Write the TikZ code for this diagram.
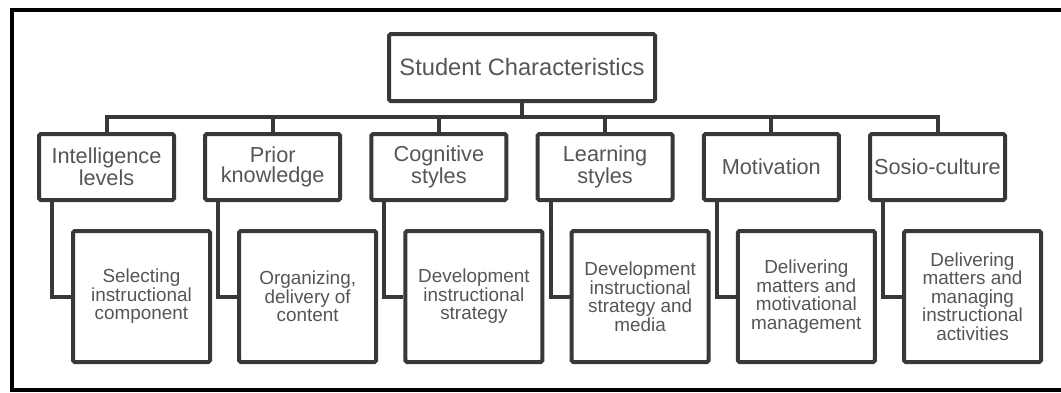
\documentclass[tikz,border=0pt]{standalone}
\usepackage{fontspec}
\setmainfont{Liberation Sans}
\begin{document}
\begin{tikzpicture}[x=0.5pt,y=-0.5pt,
  boxline/.style={draw=boxgray, line width=2pt, rounded corners=0.8pt},
  topbox/.style={boxline, minimum width=133pt, minimum height=33.5pt, inner sep=0pt,
     font=\fontsize{11.85}{13}\selectfont, text=txtgray},
  catbox/.style={boxline, minimum width=67.5pt, minimum height=33pt, inner sep=0pt,
     align=center, font=\fontsize{10.85}{10}\selectfont, text=txtgray},
  subbox/.style={boxline, minimum width=68.5pt, minimum height=65.5pt, inner sep=0pt,
     align=center, font=\fontsize{9.45}{9.25}\selectfont, text=txtgray},
  link/.style={draw=boxgray, line width=2pt}
]
\definecolor{boxgray}{HTML}{383838}
\definecolor{txtgray}{HTML}{555555}
\useasboundingbox (0,0) rectangle (1061,392);
\begin{scope}
\clip (0,0) rectangle (1061,392);
\draw[line width=1.9pt, black] (1070,10) -- (12,10) -- (12,390) -- (1070,390);
\end{scope}

\node[topbox] (top) at (522,67.5) {Student Characteristics};

\node[catbox] (c1) at (106.5,167) {Intelligence\\levels};
\node[catbox] (c2) at (272.7,167) {Prior\\knowledge};
\node[catbox] (c3) at (438.9,167) {Cognitive\\styles};
\node[catbox] (c4) at (605.1,167) {Learning\\styles};
\node[catbox] (c5) at (771.3,167) {Motivation};
\node[catbox] (c6) at (937.5,167) {Sosio-culture};

\node[subbox] (s1) at (141.5,296.5) {Selecting\\instructional\\component};
\node[subbox] (s2) at (307.7,296.5) {Organizing,\\delivery of\\content};
\node[subbox] (s3) at (473.9,296.5) {Development\\instructional\\strategy};
\node[subbox] (s4) at (640.1,296.5) {Development\\instructional\\strategy and\\media};
\node[subbox] (s5) at (806.3,296.5) {Delivering\\matters and\\motivational\\management};
\node[subbox] (s6) at (972.5,296.5) {Delivering\\matters and\\managing\\instructional\\activities};

\coordinate (bar) at (522,117);
\coordinate (barL) at (106.5,117);
\coordinate (barR) at (937.5,117);
\draw[link] (top.south) -- (bar);
\draw[link, line cap=rect] (barL) -- (barR);
\foreach \i in {1,...,6}{
  \draw[link] (c\i.north |- bar) -- (c\i.north);
  \draw[link] ([xshift=-27.25pt]c\i.south) |- (s\i.west);
}
\end{tikzpicture}
\end{document}
